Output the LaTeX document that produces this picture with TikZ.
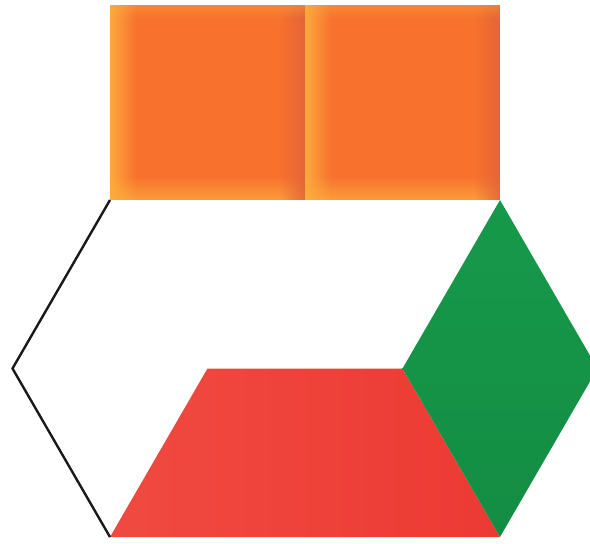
\documentclass[tikz,border=0pt]{standalone}
\usetikzlibrary{calc,fadings}
\definecolor{orangemain}{HTML}{F8722E}
\definecolor{orangelight}{HTML}{FCB040}
\definecolor{orangedark}{HTML}{E0603A}
\definecolor{redmain}{HTML}{EC3A33}
\definecolor{redlight}{HTML}{F04A40}
\definecolor{greenmain}{HTML}{16994A}
\definecolor{greendark}{HTML}{12853F}
\tikzset{
  hexline/.style={draw=black!90, line width=2.4pt, line join=miter},
}
\begin{document}
\begin{tikzpicture}[x=1pt,y=-1pt]
\useasboundingbox (0,0) rectangle (590,544);
% hexagon vertices (s = 195)
\coordinate (TL) at (110,200);
\coordinate (TR) at (500,200);
\coordinate (R)  at (597.5,368.5);
\coordinate (BR) at (500,537);
\coordinate (BL) at (110,537);
\coordinate (L)  at (12.5,368.5);
\coordinate (ML) at (207.5,368.5);
\coordinate (MR) at (402.5,368.5);
% orange squares
\foreach \x in {110,305}{
  \fill[orangemain] (\x,5) rectangle ++(195,195);
  \fill[orangelight, fill opacity=0.9, path fading=east] (\x,5) rectangle ++(26,195);
  \fill[orangelight, fill opacity=0.7, path fading=north] (\x,176) rectangle ++(195,24);
  \fill[orangedark, fill opacity=0.8, path fading=west] (\x+169,5) rectangle ++(26,195);
  \fill[orangelight, fill opacity=0.35, path fading=south] (\x,5) rectangle ++(195,14);
}
% red trapezoid
\shade[left color=redlight, right color=redmain] (ML) -- (MR) -- (BR) -- (BL) -- cycle;
% green rhombus
\shade[top color=greenmain, bottom color=greendark!60!greenmain] (TR) -- (R) -- (BR) -- (MR) -- cycle;
% hexagon outline (left part)
\draw[hexline] (TL) -- (L) -- (BL);
\end{tikzpicture}
\end{document}
